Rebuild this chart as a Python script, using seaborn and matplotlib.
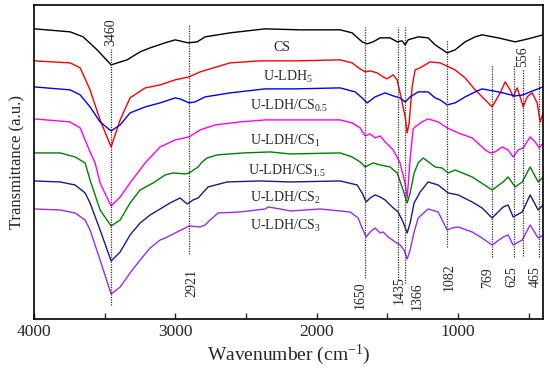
import pandas as pd
import matplotlib
matplotlib.use("Agg")
import matplotlib.pyplot as plt
import seaborn as sns

# FTIR spectra (wavenumber in cm-1, offset transmittance in a.u.)
cs_wn = [4000, 3745, 3653, 3554, 3455, 3342, 3250, 3179, 3073, 3002, 2910, 2846, 2790, 2613, 2365,
         2118, 1834, 1750, 1679, 1643, 1601, 1551, 1481, 1431, 1396, 1374, 1353, 1282, 1212, 1162,
         1077, 1021, 950, 879, 830, 716, 596, 504, 398]
cs_t = [290, 287, 282, 269, 254, 259, 267, 271, 276, 279, 276, 277, 282, 286, 290,
        289, 289, 286, 277, 275, 277, 281, 281, 277, 278, 274, 279, 282, 281, 274,
        266, 269, 277, 282, 284, 281, 277, 280, 284]

ldh_wn = [4000, 3745, 3674, 3604, 3533, 3455, 3391, 3321, 3214, 3108, 3002, 2903, 2825, 2613, 2401,
          2153, 1834, 1750, 1693, 1657, 1622, 1573, 1530, 1502, 1481, 1459, 1431, 1410, 1374, 1360,
          1346, 1325, 1304, 1268, 1198, 1127, 1021, 950, 879, 808, 759, 702, 667, 631, 610,
          582, 554, 539, 511, 476, 440, 419, 398]
ldh_t = [258, 256, 251, 229, 199, 172, 199, 221, 231, 234, 239, 242, 247, 256, 258,
         258, 259, 256, 250, 247, 248, 246, 242, 240, 242, 244, 239, 226, 202, 186,
         196, 232, 249, 251, 257, 256, 249, 241, 229, 219, 212, 226, 237, 229, 222,
         231, 219, 212, 222, 226, 216, 197, 206]

cs05_wn = [4000, 3745, 3674, 3604, 3533, 3455, 3391, 3321, 3214, 3108, 3002, 2967, 2903, 2861, 2790,
           2613, 2365, 2153, 1834, 1728, 1679, 1643, 1587, 1516, 1459, 1410, 1374, 1339, 1282, 1212,
           1162, 1127, 1077, 1021, 950, 879, 830, 716, 596, 539, 490, 398]
cs05_t = [232, 229, 224, 212, 197, 188, 194, 206, 212, 216, 221, 220, 216, 217, 222,
          226, 230, 230, 231, 227, 221, 216, 222, 226, 223, 221, 217, 222, 227, 227,
          221, 219, 214, 216, 222, 227, 230, 227, 223, 224, 227, 232]

cs1_wn = [4000, 3745, 3674, 3604, 3568, 3533, 3455, 3391, 3321, 3214, 3108, 3002, 2903, 2825, 2719,
          2542, 2365, 2153, 1834, 1750, 1693, 1657, 1622, 1587, 1551, 1516, 1459, 1410, 1374, 1360,
          1339, 1318, 1304, 1254, 1212, 1141, 1077, 999, 900, 830, 808, 773, 738, 688, 646,
          610, 575, 539, 490, 454, 426, 398]
cs1_t = [200, 197, 191, 167, 156, 136, 113, 122, 136, 156, 172, 179, 182, 189, 194,
         197, 199, 199, 199, 196, 191, 183, 185, 181, 183, 177, 169, 156, 135, 121,
         160, 190, 192, 197, 200, 197, 191, 186, 181, 172, 169, 166, 167, 172, 169,
         162, 169, 171, 182, 177, 171, 176]

cs15_wn = [4000, 3816, 3710, 3639, 3604, 3533, 3455, 3391, 3321, 3250, 3158, 3073, 3016, 2931, 2903,
           2839, 2811, 2776, 2705, 2521, 2330, 2188, 1834, 1750, 1693, 1657, 1601, 1551, 1481, 1431,
           1389, 1360, 1339, 1311, 1282, 1247, 1162, 1113, 1070, 1021, 900, 759, 681, 646, 596,
           546, 490, 433, 398]
cs15_t = [166, 166, 162, 156, 139, 109, 93, 99, 116, 129, 136, 144, 146, 145, 146,
          152, 157, 161, 164, 166, 167, 165, 166, 162, 157, 152, 156, 154, 152, 146,
          129, 116, 126, 146, 156, 161, 152, 151, 146, 149, 142, 129, 137, 142, 132,
          137, 152, 137, 142]

cs2_wn = [4000, 3816, 3710, 3639, 3604, 3533, 3455, 3391, 3321, 3250, 3179, 3073, 3038, 2967, 2917,
          2875, 2839, 2769, 2634, 2401, 2188, 1834, 1714, 1679, 1650, 1622, 1587, 1551, 1516, 1466,
          1424, 1389, 1360, 1339, 1311, 1268, 1212, 1141, 1070, 999, 900, 830, 759, 681, 646,
          610, 546, 490, 433, 398]
cs2_t = [138, 137, 134, 126, 116, 89, 58, 67, 84, 96, 104, 113, 116, 121, 115,
         119, 121, 132, 137, 138, 137, 138, 134, 126, 117, 121, 124, 122, 119, 112,
         107, 97, 86, 96, 116, 127, 137, 134, 126, 124, 117, 111, 101, 112, 114,
         102, 107, 124, 109, 114]

cs3_wn = [4000, 3816, 3710, 3639, 3604, 3533, 3455, 3391, 3321, 3250, 3179, 3108, 3073, 3002, 2931,
          2903, 2825, 2790, 2754, 2698, 2542, 2365, 2344, 2259, 2188, 1976, 1764, 1707, 1679, 1650,
          1622, 1587, 1551, 1530, 1495, 1445, 1410, 1382, 1360, 1339, 1311, 1282, 1212, 1141, 1077,
          1042, 999, 900, 830, 759, 681, 646, 610, 546, 490, 433, 398]
cs3_t = [110, 109, 106, 99, 89, 59, 25, 32, 46, 59, 71, 79, 81, 86, 91,
         93, 92, 94, 99, 106, 107, 110, 112, 110, 108, 110, 107, 101, 91, 82,
         87, 91, 86, 87, 82, 77, 74, 69, 60, 69, 87, 101, 110, 107, 89,
         91, 92, 87, 81, 74, 82, 84, 74, 79, 94, 81, 84]

samples = ["CS", "U-LDH5", "U-LDH/CS0.5", "U-LDH/CS1", "U-LDH/CS1.5", "U-LDH/CS2", "U-LDH/CS3"]
sample_labels = ["CS", r"U-LDH$_{\mathrm{5}}$", r"U-LDH/CS$_{\mathrm{0.5}}$", r"U-LDH/CS$_{\mathrm{1}}$",
                 r"U-LDH/CS$_{\mathrm{1.5}}$", r"U-LDH/CS$_{\mathrm{2}}$", r"U-LDH/CS$_{\mathrm{3}}$"]
peak_labels = ["3460", "2921", "1650", "1435", "1366", "1082", "769", "625", "556", "465"]

spectra = [(cs_wn, cs_t), (ldh_wn, ldh_t), (cs05_wn, cs05_t), (cs1_wn, cs1_t),
           (cs15_wn, cs15_t), (cs2_wn, cs2_t), (cs3_wn, cs3_t)]
frames = []
for name, (wn, t) in zip(samples, spectra):
    frames.append(pd.DataFrame({"wn": wn, "T": t, "sample": name}))
df = pd.concat(frames, ignore_index=True)

colors = ["#000000", "#ff0000", "#0000ff", "#ff00ff", "#008000", "#1a1a8c", "#9a2cf0"]

sns.set_style("ticks")
plt.rcParams["font.family"] = ["Liberation Serif", "DejaVu Serif"]
plt.rcParams["mathtext.fontset"] = "custom"
plt.rcParams["mathtext.rm"] = "Liberation Serif"
plt.rcParams["mathtext.it"] = "Liberation Serif:italic"

fig, ax = plt.subplots(figsize=(5.5, 3.71), dpi=100)
fig.subplots_adjust(left=0.062, right=0.987, top=0.987, bottom=0.140)

sns.lineplot(data=df, x="wn", y="T", hue="sample", palette=colors, estimator=None,
             sort=False, legend=False, linewidth=1.0, ax=ax)

# dotted guide lines at the assigned bands
line_x = [3455, 2903, 1657, 1424, 1374, 1077, 759, 603, 539, 426]
line_lo = [14, 65, 41, 39, 36, 72, 62, 62, 63, 62]
line_hi = [270, 294, 292, 292, 292, 279, 254, 254, 250, 264]
ax.vlines(line_x, line_lo, line_hi, colors="#333333", linestyles=(0, (1, 1)), linewidth=0.9)

# peak numbers (rotated)
lab_x = [3455, 2885, 1693, 1417, 1290, 1063, 794, 617, 546, 454]
lab_y = [287, 36, 24, 29, 23, 42, 41, 42, 262, 42]
for txt, x, y in zip(peak_labels, lab_x, lab_y):
    ax.text(x, y, txt, rotation=90, ha="center", va="center", fontsize=10)

# curve names
name_x = [2309, 2379, 2471, 2471, 2485, 2471, 2471]
name_y = [268, 238, 209, 174, 144, 117, 89]
for txt, x, y in zip(sample_labels, name_x, name_y):
    ax.text(x, y, txt, ha="left", va="baseline", fontsize=10)

ax.set_xlim(4000, 400)
ax.set_ylim(0, 314)
ax.set_xticks([4000, 3000, 2000, 1000])
ax.set_xticks([3500, 2500, 1500, 500], minor=True)
ax.set_yticks([])
ax.tick_params(axis="x", which="both", direction="in", labelsize=12.5, length=4, width=1)
ax.set_xlabel("Wavenumber (cm$^{-1}$)", fontsize=14, labelpad=2)
ax.set_ylabel("Transmittance (a.u.)", fontsize=12, labelpad=6)
for s in ax.spines.values():
    s.set_linewidth(1.2)
    s.set_color("black")

fig.savefig("out.png", dpi=100)
